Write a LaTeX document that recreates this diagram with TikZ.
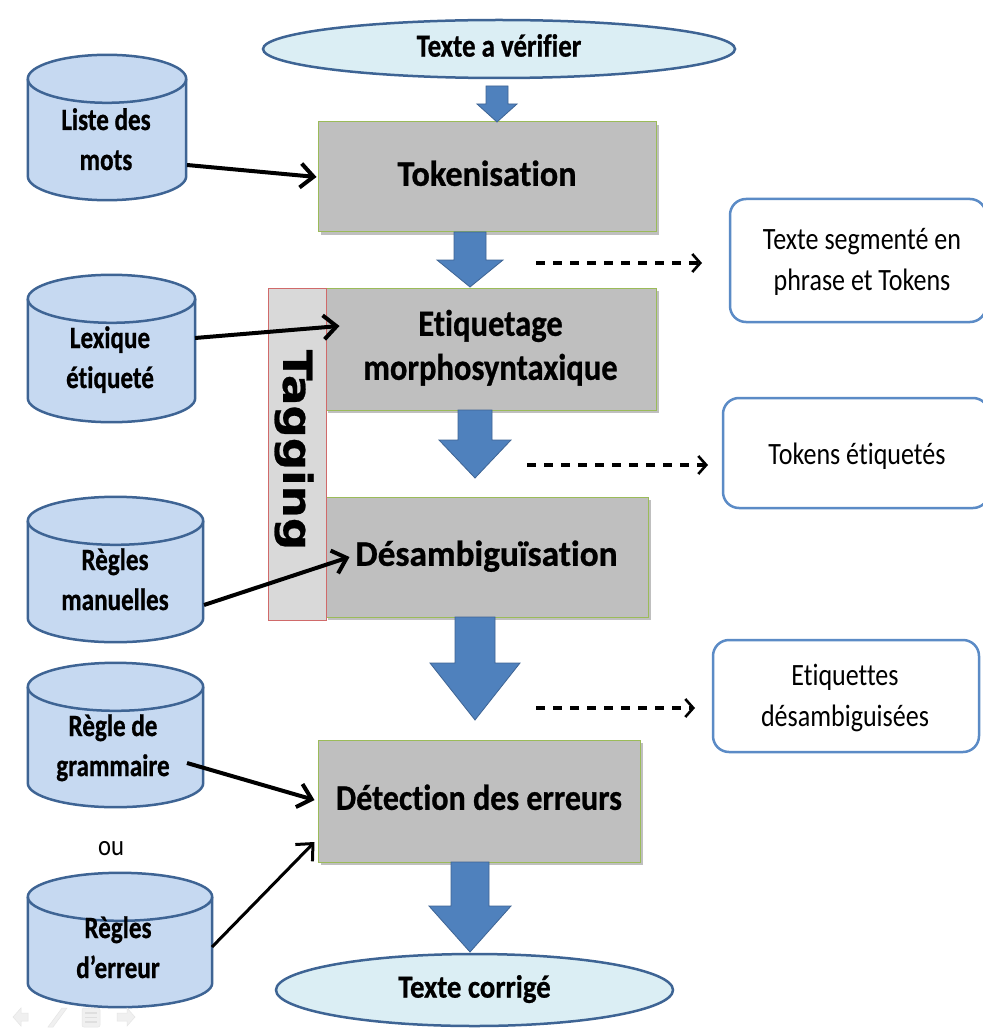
\documentclass[tikz,border=0pt]{standalone}
\usepackage{fontspec}
\setmainfont{Carlito}[Ligatures=NoCommon, BoldFeatures={FakeBold=0.8}]
\newfontfamily\tagfont{DejaVu Sans}[BoldFeatures={FakeBold=0.6}]
\usepackage{graphicx}
\usetikzlibrary{shapes.geometric,arrows.meta,calc,shadows}

\definecolor{boxgray}{HTML}{BFBFBF}
\definecolor{boxedge}{HTML}{9BBB59}
\definecolor{tagfill}{HTML}{D9D9D9}
\definecolor{tagedge}{HTML}{D06A6A}
\definecolor{dbfill}{HTML}{C6D9F1}
\definecolor{dbedge}{HTML}{3E6494}
\definecolor{ellfill}{HTML}{DBEEF4}
\definecolor{flowblue}{HTML}{4F81BD}
\definecolor{noteedge}{HTML}{5B8BC6}
\definecolor{navgray}{HTML}{F0F0F0}

% horizontally squeezed (multi-line) label
\newcommand\sx[2]{\scalebox{#1}[1]{\begin{tabular}{@{}c@{}}#2\end{tabular}}}

% thick block arrow pointing down: start, tip, shaft half-width, head half-width, head length
\newcommand\flowarrow[5]{%
  \filldraw[flowarrowstyle] let \p1=(#1), \p2=(#2) in
    ({\x1-#3pt},\y1) -- ({\x1+#3pt},\y1) -- ({\x1+#3pt},{\y2+#5pt})
    -- ({\x1+#4pt},{\y2+#5pt}) -- (\x1,\y2) -- ({\x1-#4pt},{\y2+#5pt})
    -- ({\x1-#3pt},{\y2+#5pt}) -- cycle;}

% database drum drawn over the frame of a (hidden) node: node name, end radius
\newcommand\drum[2]{%
  \filldraw[drumstyle] let \p1=(#1.north west), \p2=(#1.south east),
      \n1={(\x2-\x1)/2} in
    (\x1,{\y1-#2pt}) -- (\x1,{\y2+#2pt})
    arc[start angle=180, end angle=360, x radius=\n1, y radius=#2pt]
    -- (\x2,{\y1-#2pt})
    arc[start angle=0, end angle=180, x radius=\n1, y radius=#2pt] -- cycle;
  \draw[drumstyle, fill=none] let \p1=(#1.north west), \p2=(#1.south east),
      \n1={(\x2-\x1)/2} in
    (\x1,{\y1-#2pt}) arc[start angle=180, end angle=360, x radius=\n1, y radius=#2pt];}

\begin{document}
\begin{tikzpicture}[x=1pt,y=-1pt,
  stage/.style={rectangle, draw=boxedge, line width=1pt, fill=boxgray, inner sep=0pt,
    drop shadow={shadow xshift=3pt, shadow yshift=-3pt, opacity=0.25, fill=black},
    font=\fontsize{36}{44}\selectfont\bfseries},
  startend/.style={ellipse, draw=dbedge, line width=2.5pt, fill=ellfill, inner sep=0pt,
    font=\fontsize{32}{38}\selectfont\bfseries},
  dbase/.style={rectangle, draw=none, inner sep=0pt},
  drumstyle/.style={draw=dbedge, line width=2.5pt, fill=dbfill, line join=round},
  dbtext/.style={inner sep=0pt, font=\fontsize{31}{40}\selectfont\bfseries},
  note/.style={rectangle, rounded corners=16pt, draw=noteedge, line width=2.5pt, fill=white,
    inner sep=0pt},
  notetext/.style={inner sep=0pt, font=\fontsize{31}{41}\selectfont},
  tagbox/.style={rectangle, draw=tagedge, line width=1pt, fill=tagfill, inner sep=0pt},
  feed/.style={line width=4pt, -{Straight Barb[length=13pt,width=24pt]}},
  result/.style={line width=3.4pt, dash pattern=on 9pt off 8pt,
    -{Straight Barb[length=8pt,width=18pt,line width=2.6pt]}},
  flowarrowstyle/.style={fill=flowblue, draw=dbedge, line width=0.8pt}
]
\fill[white] (0,0) rectangle (982,1032);
\useasboundingbox (0,0) rectangle (982,1032);

% input / output texts
\node[startend, minimum width=472pt, minimum height=58pt] (in) at (499,49)
  {\sx{0.84}{Texte a vérifier}};
\node[startend, minimum width=397pt, minimum height=72pt] (out) at (474.5,990)
  {\sx{0.9}{Texte corrigé}};

% processing stages
\node[stage, minimum width=338pt, minimum height=110pt] (tok) at (487,177)
  {\sx{0.95}{Tokenisation}};
\node[stage, minimum width=331pt, minimum height=122pt, font=\fontsize{37}{44}\selectfont\bfseries]
  (etq) at (490.5,349) {\sx{0.88}{Etiquetage\\morphosyntaxique}};
\node[stage, minimum width=323pt, minimum height=120pt] (dsb) at (486.5,557)
  {\sx{0.98}{Désambiguïsation}};
\node[stage, minimum width=322pt, minimum height=122pt] (det) at (479,801)
  {\sx{0.89}{Détection des erreurs}};

% tagging band
\node[tagbox, minimum width=58pt, minimum height=332pt] (tagb) at (297,454) {};
\node[rotate=-90, inner sep=0pt, font=\tagfont\fontsize{40}{40}\selectfont\bfseries]
  (tagt) at (294,450) {\scalebox{1.13}[1]{Tagging}};

% resources
\node[dbase, minimum width=158pt, minimum height=145pt] (c1) at (107,127.5) {};
\node[dbase, minimum width=167pt, minimum height=147pt] (c2) at (111.5,348.5) {};
\node[dbase, minimum width=175pt, minimum height=145pt] (c3) at (115.5,569.5) {};
\node[dbase, minimum width=175pt, minimum height=144pt] (c4) at (115.5,735) {};
\node[dbase, minimum width=184pt, minimum height=134pt] (c5) at (120,940) {};
\drum{c1}{24} \drum{c2}{24} \drum{c3}{24} \drum{c4}{24} \drum{c5}{24}
\node[dbtext] (c1t) at (106,142) {\sx{0.81}{Liste des\\mots}};
\node[dbtext] (c2t) at (110,360) {\sx{0.81}{Lexique\\étiqueté}};
\node[dbtext] (c3t) at (115,582) {\sx{0.81}{Règles\\manuelles}};
\node[dbtext] (c4t) at (113,748) {\sx{0.81}{Règle de\\grammaire}};
\node[dbtext] (c5t) at (118,950) {\sx{0.81}{Règles\\d’erreur}};
\node[notetext, font=\fontsize{29}{36}\selectfont] (ou) at (111,848) {\sx{0.85}{ou}};

% intermediate results
\node[note, minimum width=256pt, minimum height=123pt] (nA) at (858,260.5) {};
\node[note, minimum width=266pt, minimum height=110pt] (nB) at (856,453) {};
\node[note, minimum width=266pt, minimum height=112pt] (nC) at (846,696) {};
\node[notetext] (nAt) at (862,262) {\sx{0.84}{Texte segmenté en\\phrase et Tokens}};
\node[notetext] (nBt) at (857,456) {\sx{0.84}{Tokens étiquetés}};
\node[notetext] (nCt) at (845,698) {\sx{0.84}{Etiquettes\\désambiguisées}};

% main flow
\coordinate (f1s) at (497,86);   \coordinate (f1e) at (497,122);
\coordinate (f2s) at (470,232);  \coordinate (f2e) at (470,287);
\coordinate (f3s) at (475,410);  \coordinate (f3e) at (475,478);
\coordinate (f4s) at (475,617);  \coordinate (f4e) at (475,720);
\coordinate (f5s) at (470,862);  \coordinate (f5e) at (470,952);
\flowarrow{f1s}{f1e}{11}{20}{18}
\flowarrow{f2s}{f2e}{16}{33}{27}
\flowarrow{f3s}{f3e}{17}{36}{38}
\flowarrow{f4s}{f4e}{20}{45}{57}
\flowarrow{f5s}{f5e}{19}{41}{46}

% resources feeding the stages
\draw[feed] ($(c1)+(80,37.5)$) -- ($(tok.west)+(-1,0)$);
\draw[feed] ($(c2)+(83.5,-10.5)$) -- ($(etq.west)+(15,-23)$);
\draw[feed] ($(c3)+(88.5,35.5)$) -- ($(dsb.west)+(25,0)$);
\draw[feed] ($(c4)+(71.5,28)$) -- ($(det.west)+(-3,-1)$);
\draw[feed, line width=3pt] ($(c5)+(92,7)$) -- ($(det.west)+(-3,41)$);

% outputs of the stages
\coordinate (d1s) at (536,263); \coordinate (d1e) at (702,263);
\coordinate (d2s) at (527,465); \coordinate (d2e) at (708,465);
\coordinate (d3s) at (536,708); \coordinate (d3e) at (695,708);
\draw[result] (d1s) -- (d1e);
\draw[result] (d2s) -- (d2e);
\draw[result] (d3s) -- (d3e);

% slide navigation glyphs
\begin{scope}[fill=navgray, draw=gray!20, line width=0.5pt]
  \filldraw (13,1017) -- (21,1008) -- (21,1013) -- (28,1013) -- (28,1021) -- (21,1021) -- (21,1026) -- cycle;
  \filldraw (48,1027) -- (62,1008) -- (67,1008) -- (53,1027) -- cycle;
  \filldraw[rounded corners=2pt] (82,1008) rectangle (100,1027);
  \draw[gray!25, line width=1.2pt] (85,1013) -- (97,1013) (85,1017.5) -- (97,1017.5) (85,1022) -- (97,1022);
  \filldraw (135,1017) -- (127,1008) -- (127,1013) -- (117,1013) -- (117,1021) -- (127,1021) -- (127,1026) -- cycle;
\end{scope}
\end{tikzpicture}
\end{document}
